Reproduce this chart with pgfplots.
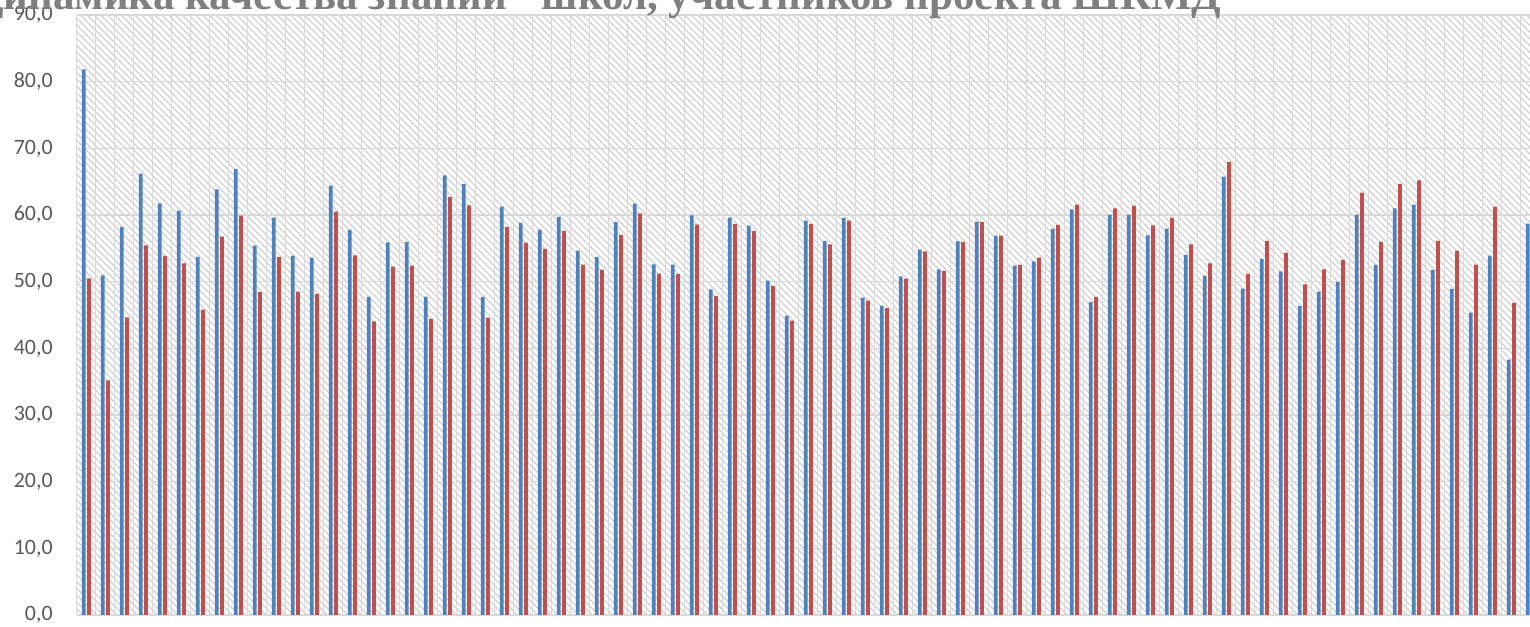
\documentclass[border=0pt]{standalone}
\usepackage{fontspec}
\setmainfont{Carlito}
\newfontfamily\titlefont{Liberation Serif}
\usepackage{pgfplots}
\pgfplotsset{compat=1.18}
\usepackage{pgfplotstable}
\usetikzlibrary{patterns.meta}
\definecolor{barblue}{HTML}{4F81BD}
\definecolor{barred}{HTML}{C0504D}
\definecolor{gridgray}{HTML}{D9D9D9}
\definecolor{hatchgray}{HTML}{D4D4D4}
\definecolor{labelgray}{HTML}{595959}
\definecolor{titlegray}{HTML}{7F7F7F}

\tikzdeclarepattern{
  name=bghatch,
  type=uncolored,
  bounding box={(0bp,-0.5bp) and (2.4bp,0.5bp)},
  tile size={(2.4bp,2.4bp)},
  tile transformation={rotate=-45},
  code={\pgfsetlinewidth{0.7bp}\pgfpathmoveto{\pgfqpoint{-0.1bp}{0bp}}\pgfpathlineto{\pgfqpoint{2.5bp}{0bp}}\pgfusepath{stroke}}
}

\pgfplotstableread{
x y
0 81.85
1 50.95
2 58.2
3 66.2
4 61.75
5 60.65
6 53.7
7 63.85
8 66.9
9 55.4
10 59.6
11 53.9
12 53.6
13 64.4
14 57.75
15 47.7
16 55.9
17 55.95
18 47.75
19 65.95
20 64.65
21 47.7
22 61.25
23 58.8
24 57.8
25 59.7
26 54.65
27 53.7
28 58.95
29 61.7
30 52.6
31 52.55
32 59.95
33 48.85
34 59.6
35 58.4
36 50.15
37 44.9
38 59.15
39 56.1
40 59.55
41 47.6
42 46.4
43 50.8
44 54.8
45 51.85
46 56.05
47 59.0
48 56.9
49 52.4
50 53.05
51 57.9
52 60.85
53 46.95
54 60.0
55 60.0
56 56.95
57 57.95
58 54.0
59 50.9
60 65.75
61 48.95
62 53.4
63 51.55
64 46.35
65 48.5
66 49.95
67 60.0
68 52.5
69 61.0
70 61.55
71 51.75
72 48.9
73 45.35
74 53.9
75 38.3
76 58.7
}\blueseries

\pgfplotstableread{
x y
0 50.5
1 35.2
2 44.65
3 55.45
4 53.85
5 52.75
6 45.8
7 56.75
8 59.9
9 48.45
10 53.7
11 48.5
12 48.15
13 60.5
14 53.95
15 44.05
16 52.25
17 52.4
18 44.4
19 62.7
20 61.45
21 44.6
22 58.2
23 55.85
24 54.9
25 57.6
26 52.55
27 51.8
28 57.0
29 60.25
30 51.2
31 51.15
32 58.55
33 47.85
34 58.65
35 57.6
36 49.35
37 44.15
38 58.65
39 55.6
40 59.15
41 47.15
42 46.05
43 50.45
44 54.55
45 51.6
46 55.95
47 58.95
48 56.9
49 52.5
50 53.6
51 58.5
52 61.55
53 47.7
54 61.0
55 61.4
56 58.45
57 59.55
58 55.6
59 52.75
60 67.95
61 51.15
62 56.1
63 54.3
64 49.6
65 51.85
66 53.25
67 63.35
68 55.95
69 64.65
70 65.2
71 56.1
72 54.65
73 52.55
74 61.25
75 46.8
}\redseries

\begin{document}
\begin{tikzpicture}
\begin{axis}[
  at={(38.35bp,6bp)}, anchor=south west,
  scale only axis,
  width=731.5bp, height=300bp,
  xmin=-0.5, xmax=76.5,
  ymin=0, ymax=90,
  ytick={0,10,...,90},
  xtick={-0.5,0.5,...,76.5},
  xticklabels={},
  major tick length=0pt,
  axis line style={draw=none},
  xmajorgrids, ymajorgrids,
  grid style={draw=gridgray, line width=0.75bp},
  axis background/.style={pattern={bghatch}, pattern color=hatchgray},
  yticklabel style={font=\fontsize{11}{13}\selectfont, text=labelgray, anchor=east, inner sep=0pt, xshift=-11.85bp},
  /pgf/number format/.cd, fixed, fixed zerofill, precision=1, use comma, assume math mode=true,
  /pgfplots/.cd,
  ybar,
  bar width=1.85bp,
]
\addplot[fill=barblue, draw=none, bar shift=-1.2bp] table[x=x,y=y] {\blueseries};
\addplot[fill=barred, draw=none, bar shift=1.4bp] table[x=x,y=y] {\redseries};
\end{axis}
\node[anchor=base east, inner sep=0pt, text=titlegray, font=\titlefont\bfseries\fontsize{21.6}{24}\selectfont] at (611bp,308.5bp) {Динамика качества знаний\hspace{12bp} школ, участников проекта ШКМД};
\pgfresetboundingbox
\useasboundingbox (0,0) rectangle (765bp,313.5bp);
\end{tikzpicture}
\end{document}
